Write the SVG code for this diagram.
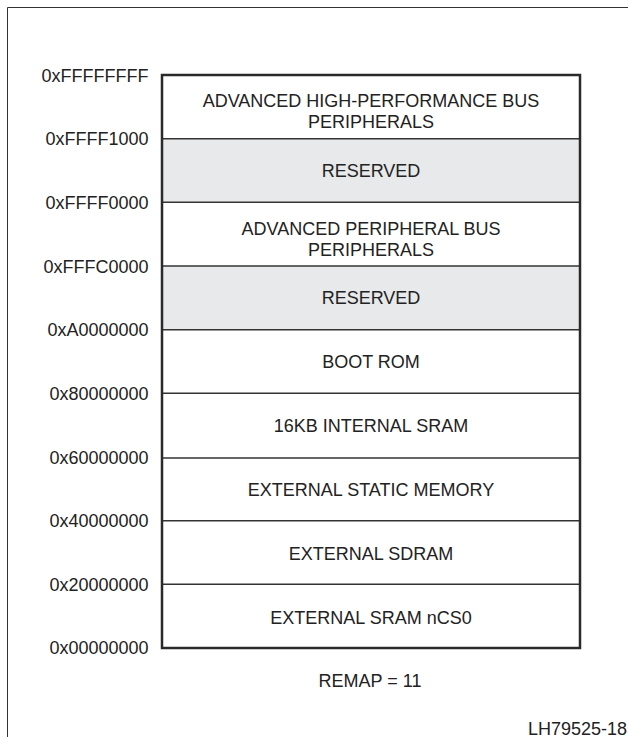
<svg xmlns="http://www.w3.org/2000/svg" width="628" height="737" viewBox="0 0 628 737">
<style>
text{font-family:"Liberation Sans",Arial,sans-serif;font-size:18px;fill:#222}
.addr{text-anchor:end}
.lbl{text-anchor:middle}
.row{stroke:#333;stroke-width:1.5}
.res{fill:#e8e9ea}
.frame{stroke:#333;stroke-width:1;fill:none}
</style>
<rect width="628" height="737" fill="#fff"/>
<path class="frame" d="M7.5,737 V7.5 H628"/>
<g id="map">
<rect class="res" x="162" y="138.7" width="418" height="63.6"/>
<rect class="res" x="162" y="266" width="418" height="63.7"/>
</g>
<g id="dividers">
<line class="row" x1="162" y1="138.7" x2="580" y2="138.7"/>
<line class="row" x1="162" y1="202.3" x2="580" y2="202.3"/>
<line class="row" x1="162" y1="266" x2="580" y2="266"/>
<line class="row" x1="162" y1="329.7" x2="580" y2="329.7"/>
<line class="row" x1="162" y1="393.3" x2="580" y2="393.3"/>
<line class="row" x1="162" y1="458" x2="580" y2="458"/>
<line class="row" x1="162" y1="520.7" x2="580" y2="520.7"/>
<line class="row" x1="162" y1="584.3" x2="580" y2="584.3"/>
</g>
<rect x="162" y="75" width="418" height="573" fill="none" stroke="#2a2a2a" stroke-width="2.5"/>
<g id="ahb"><text class="lbl" x="371" y="106.7">ADVANCED HIGH-PERFORMANCE BUS</text><text class="lbl" x="371" y="127.7">PERIPHERALS</text></g>
<g id="reserved1"><text class="lbl" x="371" y="177.3">RESERVED</text></g>
<g id="apb"><text class="lbl" x="371" y="234.5">ADVANCED PERIPHERAL BUS</text><text class="lbl" x="371" y="255.5">PERIPHERALS</text></g>
<g id="reserved2"><text class="lbl" x="371" y="303.5">RESERVED</text></g>
<g id="bootrom"><text class="lbl" x="371" y="367.5">BOOT ROM</text></g>
<g id="isram"><text class="lbl" x="371" y="431.5">16KB INTERNAL SRAM</text></g>
<g id="esm"><text class="lbl" x="371" y="496">EXTERNAL STATIC MEMORY</text></g>
<g id="sdram"><text class="lbl" x="371" y="559.5">EXTERNAL SDRAM</text></g>
<g id="ncs0"><text class="lbl" x="371" y="623.5">EXTERNAL SRAM nCS0</text></g>
<g id="addresses">
<text class="addr" x="148.5" y="82">0xFFFFFFFF</text>
<text class="addr" x="148.5" y="144.5">0xFFFF1000</text>
<text class="addr" x="148.5" y="208.5">0xFFFF0000</text>
<text class="addr" x="148.5" y="272.5">0xFFFC0000</text>
<text class="addr" x="148.5" y="336">0xA0000000</text>
<text class="addr" x="148.5" y="400">0x80000000</text>
<text class="addr" x="148.5" y="464">0x60000000</text>
<text class="addr" x="148.5" y="527">0x40000000</text>
<text class="addr" x="148.5" y="591">0x20000000</text>
<text class="addr" x="148.5" y="654">0x00000000</text>
</g>
<text class="lbl" x="370" y="687">REMAP = 11</text>
<text x="627" y="734.5" text-anchor="end">LH79525-18</text>
</svg>
